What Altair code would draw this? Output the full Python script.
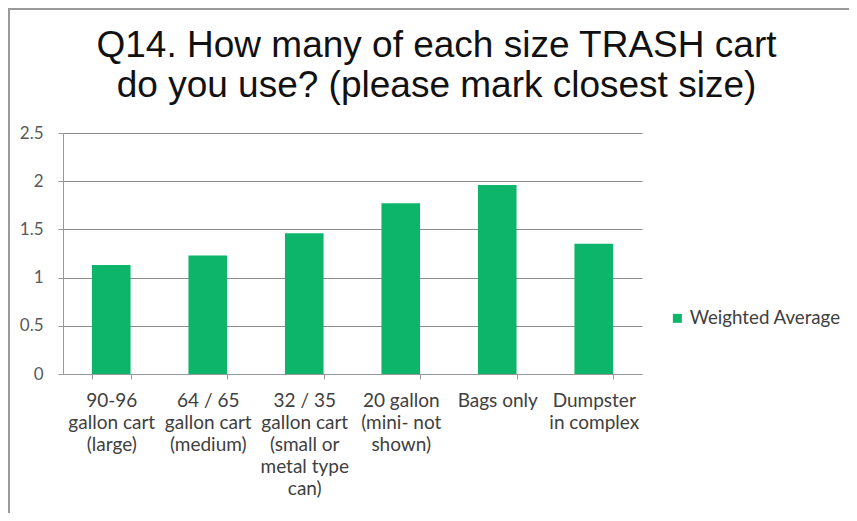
import altair as alt
import pandas as pd

categories = [
    "90-96\ngallon cart\n(large)",
    "64 / 65\ngallon cart\n(medium)",
    "32 / 35\ngallon cart\n(small or\nmetal type\ncan)",
    "20 gallon\n(mini- not\nshown)",
    "Bags only",
    "Dumpster\nin complex",
]
values = [1.13, 1.23, 1.46, 1.77, 1.96, 1.35]
series_name = "Weighted Average"
y_ticks = [0, 0.5, 1, 1.5, 2, 2.5]
title_lines = ["Q14. How many of each size TRASH cart", "do you use? (please mark closest size)"]

df = pd.DataFrame({"category": categories, "value": values, "series": [series_name] * len(values)})

GREEN = "#0DB56B"
LABEL_FONT = "Lato"

bars = alt.Chart(df).mark_bar(color=GREEN).encode(
    x=alt.X(
        "category:N",
        sort=None,
        scale=alt.Scale(paddingInner=0.6, paddingOuter=0.3),
        axis=alt.Axis(
            title=None,
            labelAngle=0,
            labelExpr="split(datum.label, '\\n')",
            labelFont=LABEL_FONT,
            labelFontSize=19,
            labelColor="#404040",
            labelLineHeight=22,
            labelPadding=12,
            labelBaseline="top",
            tickBand="extent",
            tickSize=5,
            tickColor="#999999",
            domainColor="#999999",
            grid=False,
            labelLimit=200,
        ),
    ),
    y=alt.Y(
        "value:Q",
        scale=alt.Scale(domain=[0, 2.5], nice=False),
        axis=alt.Axis(
            title=None,
            values=y_ticks,
            format="~g",
            labelFont=LABEL_FONT,
            labelFontSize=17,
            labelColor="#595959",
            labelPadding=15,
            tickSize=5,
            tickColor="#999999",
            domainColor="#999999",
            gridColor="#8c8c8c",
            grid=True,
        ),
    ),
    color=alt.Color(
        "series:N",
        scale=alt.Scale(domain=[series_name], range=[GREEN]),
        legend=alt.Legend(
            title=None,
            orient="none",
            legendX=605,
            legendY=176,
            symbolType="square",
            symbolSize=81,
            symbolStrokeWidth=0,
            labelFont=LABEL_FONT,
            labelFontSize=18.7,
            labelColor="#404040",
            labelOffset=3,
        ),
    ),
)

border = alt.Chart(pd.DataFrame({"a": [0]})).mark_rule(color="#9a9a9a", strokeWidth=2).encode(
    x=alt.value(-55),
    x2=alt.value(786),
    y=alt.value(-124),
)
border_left = alt.Chart(pd.DataFrame({"a": [0]})).mark_rule(color="#9a9a9a", strokeWidth=2).encode(
    x=alt.value(-54),
    y=alt.value(-124),
    y2=alt.value(380),
)

chart = alt.layer(bars, border, border_left).properties(
    width=579,
    height=241,
    title=alt.TitleParams(
        text=title_lines,
        font="Liberation Sans",
        fontSize=37,
        fontWeight="normal",
        color="#111111",
        anchor="middle",
        dx=84,
        dy=111,
        lineHeight=40,
        offset=14,
    ),
    autosize=alt.AutoSizeParams(type="none"),
    padding={"left": 55, "top": 125, "right": 207, "bottom": 139},
    background="white",
).configure_view(stroke=None)

chart.save("out.html", embed_options={"renderer": "svg", "actions": False})
